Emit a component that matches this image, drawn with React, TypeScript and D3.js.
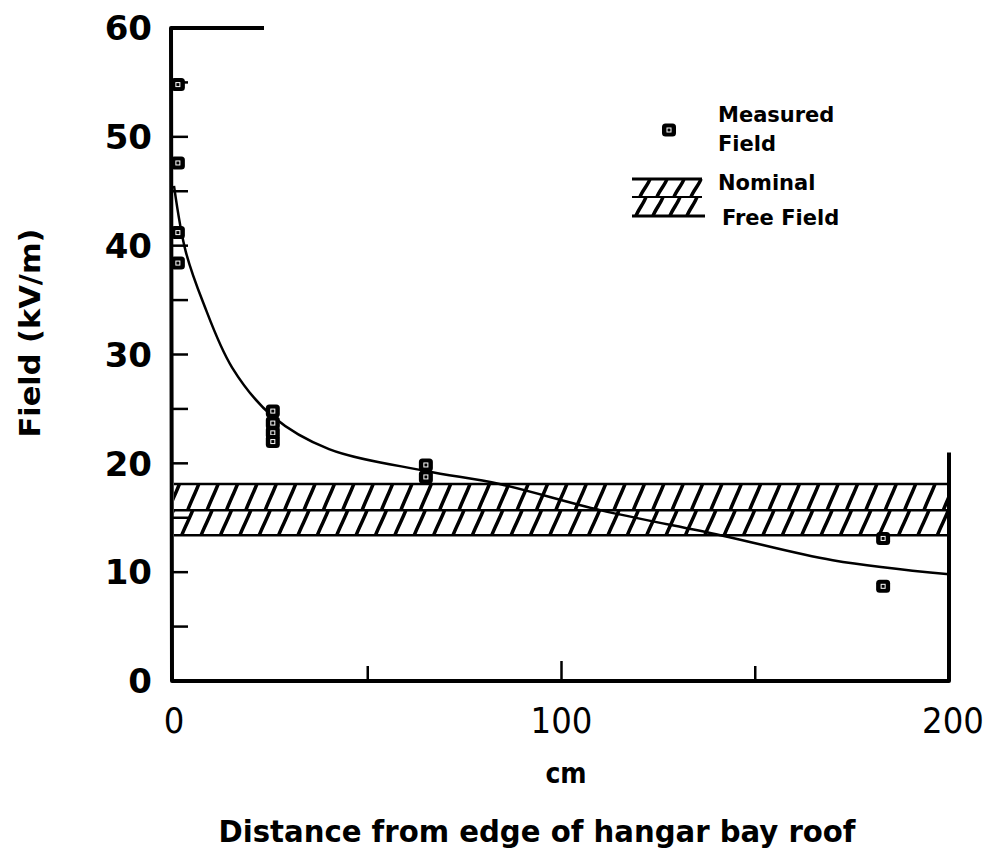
import * as d3 from 'd3';

// measured field points (cm, kV/m)
const measuredX = [1, 1, 1, 1, 25.5, 25.5, 25.5, 25.5, 65, 65, 183, 183];
const measuredY = [54.8, 47.6, 41.2, 38.4, 24.8, 23.7, 22.8, 22.0, 19.85, 18.75, 13.1, 8.7];

// fitted curve
const curveX = [0, 3, 7.5, 15, 25.5, 40, 65, 84, 110, 141, 170, 200];
const curveY = [45.5, 39.5, 34.8, 28.8, 24.3, 21.3, 19.3, 18.1, 15.7, 13.4, 11.1, 9.8];

// nominal free field band (kV/m)
const bandLow = 13.4;
const bandMid = 15.7;
const bandHigh = 18.1;

const yTicks = [0, 10, 20, 30, 40, 50, 60];
const yMinorTicks = [5, 10, 15, 20, 25, 30, 35, 40, 45, 50, 55];
const xTicks = [0, 100, 200];
const xMinorTicks = [50, 100, 150];

const width = 996;
const height = 850;
const FONT = '"DejaVu Sans", sans-serif';
const FONT_C = '"DejaVu Sans Condensed", "DejaVu Sans", sans-serif';

function Marker({ cx, cy }: { cx: number; cy: number }) {
    return (
        <g transform={`translate(${cx}, ${cy})`}>
            <rect x={-7} y={-6.5} width={14} height={13} rx={3.5} fill="black" />
            <rect x={-2} y={-2} width={4} height={4} fill="none" stroke="white" strokeWidth={1} />
        </g>
    );
}

const App = () => {
    const x = d3.scaleLinear().domain([0, 200]).range([174, 949]);
    const y = d3.scaleLinear().domain([0, 60]).range([681, 28]);

    const curveData = curveX.map((v, i) => [v, curveY[i]] as [number, number]);
    const curve = d3.line<[number, number]>()
        .x(d => x(d[0]))
        .y(d => y(d[1]))
        .curve(d3.curveCatmullRom.alpha(0.5))(curveData);

    // hatch strokes for the band, two rows
    const hatchStep = 5;
    const rows = [[bandLow, bandMid], [bandMid, bandHigh]];
    const hatches = rows.flatMap(([lo, hi], r) =>
        d3.range(-3, 203, hatchStep).map((v, i) => {
            const x0 = x(v) + (r === 1 ? 6 : 0);
            const y0 = y(lo);
            const y1 = y(hi);
            const slant = 11;
            return (
                <path
                    key={`h${r}-${i}`}
                    d={`M${x0},${y0} C${x0 + 3},${y0 - 8} ${x0 + slant - 3},${y1 + 8} ${x0 + slant},${y1}`}
                    fill="none"
                    stroke="black"
                    strokeWidth={3.5}
                />
            );
        })
    );

    // legend hatch
    const lgX0 = 632;
    const lgX1 = 702;
    const lgTop = 179;
    const lgMid = 197;
    const lgBot = 216;
    const lgHatch = [[lgMid, lgTop], [lgBot, lgMid]].flatMap(([yb, yt], r) =>
        d3.range(0, 4).map(i => {
            const x0 = lgX0 + 4 + i * 17 + (r === 0 ? 4 : 0);
            return (
                <path
                    key={`lg${r}-${i}`}
                    d={`M${x0},${yb} C${x0 + 2},${yb - 6} ${x0 + 8},${yt + 6} ${x0 + 10},${yt}`}
                    fill="none"
                    stroke="black"
                    strokeWidth={3.5}
                />
            );
        })
    );

    return (
        <svg width={width} height={height} style={{ position: 'absolute', left: 0, top: 0, background: 'white' }}>
            <defs>
                <clipPath id="band">
                    <rect x={x(0)} y={y(bandHigh)} width={x(200) - x(0)} height={y(bandLow) - y(bandHigh)} />
                </clipPath>
            </defs>

            {/* hatched band */}
            <g clipPath="url(#band)">{hatches}</g>
            {[bandLow, bandMid, bandHigh].map(v => (
                <line key={v} x1={x(0)} x2={x(200)} y1={y(v)} y2={y(v)} stroke="black" strokeWidth={2.5} />
            ))}

            {/* frame */}
            <path
                d={`M${x(0) + 90},${y(60)} L${x(0) - 3},${y(60)} L${x(0) - 2},${y(0)} L${x(200)},${y(0)} L${x(200)},${y(21)}`}
                fill="none"
                stroke="black"
                strokeWidth={4}
                strokeLinejoin="round"
            />

            {/* y ticks */}
            {yMinorTicks.map(t => (
                <line key={t} x1={x(0) - 2} x2={x(0) + 14} y1={y(t)} y2={y(t)} stroke="black" strokeWidth={2.5} />
            ))}
            {yTicks.map(t => (
                <text key={t} x={152} y={y(t)} dy="0.36em" textAnchor="end"
                    style={{ font: `bold 34px ${FONT}` }}>{t}</text>
            ))}

            {/* x ticks */}
            {xMinorTicks.map(t => (
                <line key={t} x1={x(t)} x2={x(t)} y1={y(0)} y2={y(0) - (t === 100 ? 20 : 15)} stroke="black" strokeWidth={2.5} />
            ))}
            {xTicks.map(t => (
                <text key={t} x={x(t) + (t === 200 ? 4 : 0)} y={733} textAnchor="middle"
                    style={{ font: `36px ${FONT_C}` }}>{t}</text>
            ))}

            {/* curve */}
            <path d={curve || ''} fill="none" stroke="black" strokeWidth={2.5} />

            {/* measured points */}
            {measuredX.map((v, i) => (
                <Marker key={i} cx={x(v)} cy={y(measuredY[i])} />
            ))}

            {/* legend */}
            <Marker cx={669} cy={130} />
            <text x={718} y={122} style={{ font: `bold 21px ${FONT}` }}>Measured</text>
            <text x={718} y={151} style={{ font: `bold 21px ${FONT}` }}>Field</text>
            <line x1={lgX0} x2={lgX1} y1={lgTop} y2={lgTop} stroke="black" strokeWidth={3} />
            <line x1={lgX0} x2={lgX1} y1={lgMid} y2={lgMid} stroke="black" strokeWidth={2} />
            <line x1={lgX0} x2={lgX1 + 3} y1={lgBot} y2={lgBot} stroke="black" strokeWidth={3} />
            {lgHatch}
            <text x={718} y={190} style={{ font: `bold 21px ${FONT}` }}>Nominal</text>
            <text x={722} y={225} style={{ font: `bold 21px ${FONT}` }}>Free Field</text>

            {/* axis titles */}
            <text x={566} y={783} textAnchor="middle" style={{ font: `bold 28px ${FONT_C}` }}>cm</text>
            <text x={537} y={842} textAnchor="middle" textLength={637} lengthAdjust="spacingAndGlyphs"
                style={{ font: `bold 30px ${FONT_C}` }}>Distance from edge of hangar bay roof</text>
            <text transform="translate(40, 333) rotate(-90)" textAnchor="middle" textLength={209} lengthAdjust="spacingAndGlyphs"
                style={{ font: `bold 28px ${FONT}` }}>Field (kV/m)</text>
        </svg>
    );
};

export default App;
